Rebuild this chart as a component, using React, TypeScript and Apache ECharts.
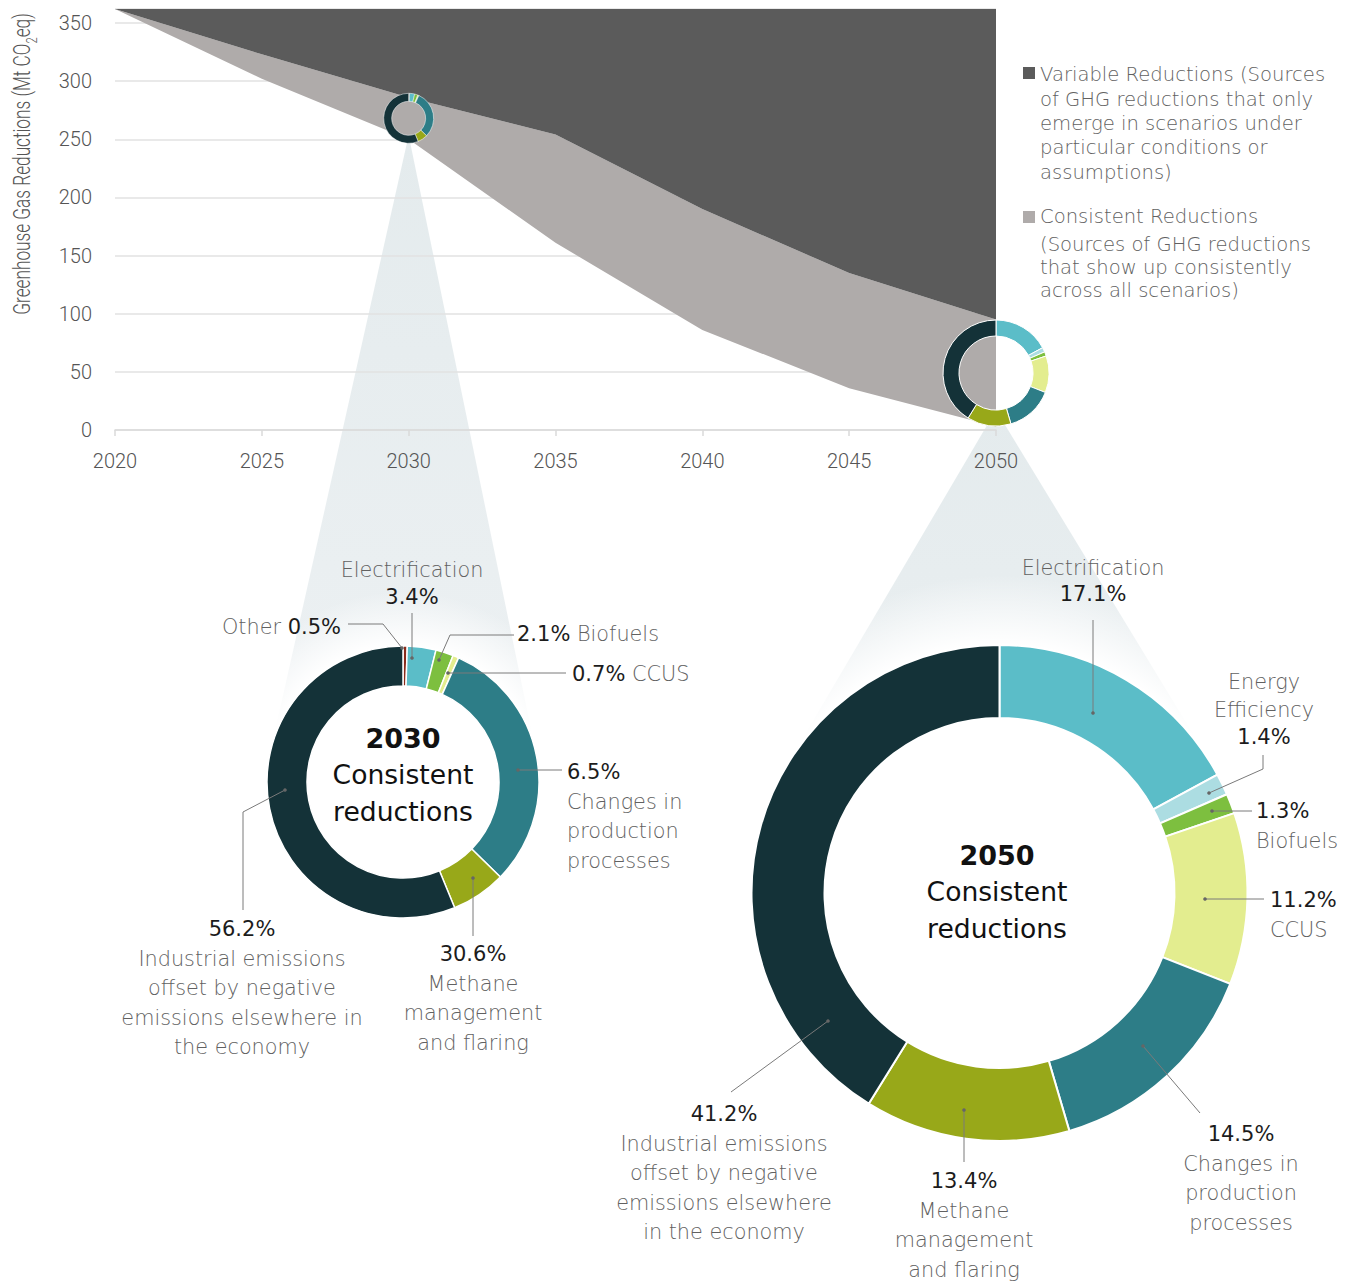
import React, { useEffect, useRef } from "react";
import * as echarts from "echarts";

// ---------------- data ----------------
const years = ["2020", "2025", "2030", "2035", "2040", "2045", "2050"];
const consistentLow = [362, 302, 250, 161, 86, 36, 3];
const consistentHigh = [362, 323, 286, 254, 190, 135, 95];
const totalReductions = [362, 362, 362, 362, 362, 362, 362];

const cats2030 = [
  "Other",
  "Electrification",
  "Biofuels",
  "CCUS",
  "Changes in production processes",
  "Methane management and flaring",
  "Industrial emissions offset",
];
const values2030 = [0.5, 3.4, 2.1, 0.7, 30.6, 6.5, 56.2];

const cats2050 = [
  "Electrification",
  "Energy Efficiency",
  "Biofuels",
  "CCUS",
  "Changes in production processes",
  "Methane management and flaring",
  "Industrial emissions offset",
];
const values2050 = [17.1, 1.4, 1.3, 11.2, 14.5, 13.4, 41.2];

// ---------------- styles ----------------
const COLORS: Record<string, string> = {
  Other: "#8a2b1b",
  Electrification: "#5bbdc8",
  "Energy Efficiency": "#acdde2",
  Biofuels: "#7dbf3f",
  CCUS: "#e3ed8f",
  "Changes in production processes": "#2d7d87",
  "Methane management and flaring": "#98a819",
  "Industrial emissions offset": "#143238",
};
const DARK_AREA = "#5b5b5b";
const LIGHT_AREA = "#afabaa";
const AXIS_FONT = "Roboto, \"Liberation Sans\", sans-serif";
const SANS = '"DejaVu Sans", "Open Sans", sans-serif';
const DESC_COLOR = "#616161";
const PCT_COLOR = "#1c1c1c";

type Ann = {
  x: number;
  y: number;
  align: "left" | "center" | "right";
  lh: number;
  lines: string[];
  leader: number[][];
};

const ann2030: Ann[] = [
  { x: 412, y: 570, align: "center", lh: 27, lines: ["{d|Electrification}", "{p|3.4%}"], leader: [[412, 613], [412, 658]] },
  { x: 341, y: 627, align: "right", lh: 27, lines: ["{d|Other }{p|0.5%}"], leader: [[348, 624], [383, 624], [402, 648]] },
  { x: 517, y: 634, align: "left", lh: 27, lines: ["{p|2.1%}{d| Biofuels}"], leader: [[514, 635], [450, 635], [439, 660]] },
  { x: 572, y: 674, align: "left", lh: 27, lines: ["{p|0.7%}{d| CCUS}"], leader: [[566, 673], [448, 673]] },
  { x: 567, y: 772, align: "left", lh: 29.7, lines: ["{p|6.5%}", "{d|Changes in}", "{d|production}", "{d|processes}"], leader: [[562, 770], [518, 770]] },
  { x: 473, y: 954, align: "center", lh: 29.7, lines: ["{p|30.6%}", "{d|Methane}", "{d|management}", "{d|and flaring}"], leader: [[473, 936], [473, 878]] },
  {
    x: 242, y: 929, align: "center", lh: 29.5,
    lines: ["{p|56.2%}", "{d|Industrial emissions}", "{d|offset by negative}", "{d|emissions elsewhere in}", "{d|the economy}"],
    leader: [[243, 910], [243, 812], [285, 790]],
  },
];

const ann2050: Ann[] = [
  { x: 1093, y: 568, align: "center", lh: 26, lines: ["{d|Electrification}", "{p|17.1%}"], leader: [[1093, 620], [1093, 713]] },
  { x: 1264, y: 682, align: "center", lh: 27.5, lines: ["{d|Energy}", "{d|Efficiency}", "{p|1.4%}"], leader: [[1263, 755], [1263, 769], [1209, 793]] },
  { x: 1256, y: 811, align: "left", lh: 30, lines: ["{p|1.3%}", "{d|Biofuels}"], leader: [[1252, 811], [1212, 811]] },
  { x: 1270, y: 900, align: "left", lh: 30, lines: ["{p|11.2%}", "{d|CCUS}"], leader: [[1264, 899], [1205, 899]] },
  { x: 1241, y: 1134, align: "center", lh: 29.7, lines: ["{p|14.5%}", "{d|Changes in}", "{d|production}", "{d|processes}"], leader: [[1200, 1113], [1143, 1046]] },
  { x: 964, y: 1181, align: "center", lh: 29.7, lines: ["{p|13.4%}", "{d|Methane}", "{d|management}", "{d|and flaring}"], leader: [[964, 1162], [964, 1110]] },
  {
    x: 724, y: 1114, align: "center", lh: 29.5,
    lines: ["{p|41.2%}", "{d|Industrial emissions}", "{d|offset by negative}", "{d|emissions elsewhere}", "{d|in the economy}"],
    leader: [[731, 1092], [828, 1021]],
  },
];

const BIG30 = { cx: 403, cy: 782, r0: 96, r1: 136 };
const BIG50 = { cx: 999.5, cy: 893, r0: 175, r1: 248 };

function annGraphics(list: Ann[]) {
  const out: any[] = [];
  list.forEach((a) => {
    out.push({
      type: "polyline",
      z: 20,
      silent: true,
      shape: { points: a.leader },
      style: { stroke: "#7a7a7a", lineWidth: 1, fill: null },
    });
    const end = a.leader[a.leader.length - 1];
    out.push({ type: "circle", z: 21, silent: true, shape: { cx: end[0], cy: end[1], r: 1.8 }, style: { fill: "#666" } });
    out.push({
      type: "text",
      z: 22,
      silent: true,
      x: a.x,
      y: a.y - a.lh / 2,
      style: {
        text: a.lines.join("\n"),
        align: a.align,
        verticalAlign: "top",
        rich: {
          p: { fontFamily: SANS, fontSize: 21, fill: PCT_COLOR, lineHeight: a.lh },
          d: { fontFamily: SANS, fontSize: 20.8, fontWeight: 300, fill: DESC_COLOR, lineHeight: a.lh },
        },
      },
    });
  });
  return out;
}

function conePoints(ax: number, ay: number, cx: number, cy: number, R: number) {
  const dx = cx - ax;
  const dy = cy - ay;
  const d = Math.hypot(dx, dy);
  const th = Math.asin(R / d);
  const L = Math.sqrt(d * d - R * R);
  const base = Math.atan2(dy, dx);
  return [
    [ax, ay],
    [ax + L * Math.cos(base + th), ay + L * Math.sin(base + th)],
    [cx, cy],
    [ax + L * Math.cos(base - th), ay + L * Math.sin(base - th)],
  ];
}

function pieSeries(name: string, cats: string[], vals: number[], center: number[], radius: number[], border: number) {
  return {
    type: "pie",
    name,
    center,
    radius,
    startAngle: 90,
    clockwise: true,
    silent: true,
    z: 5,
    label: { show: false },
    labelLine: { show: false },
    itemStyle: { borderColor: "#ffffff", borderWidth: border },
    emphasis: { disabled: true },
    data: cats.map((c, i) => ({ name: c, value: vals[i], itemStyle: { color: COLORS[c] } })),
  };
}

function measure(text: string, font: string) {
  const c = document.createElement("canvas").getContext("2d");
  if (!c) return text.length * 10;
  c.font = font;
  return c.measureText(text).width;
}

export default function App() {
  const ref = useRef<HTMLDivElement>(null);

  useEffect(() => {
    if (!ref.current) return;
    const chart = echarts.init(ref.current, null, { renderer: "svg" });

    const axesOption: any = {
      animation: false,
      grid: { left: 115, right: 358, top: 9, bottom: 854, containLabel: false },
      xAxis: {
        type: "category",
        data: years,
        boundaryGap: false,
        axisLine: { lineStyle: { color: "#dadada", width: 1.5 } },
        axisTick: { show: true, alignWithLabel: true, length: 6, lineStyle: { color: "#dadada", width: 1.5 } },
        axisLabel: { fontFamily: AXIS_FONT, fontSize: 20, fontWeight: 300, color: "#555555", margin: 21 },
        splitLine: { show: false },
      },
      yAxis: {
        type: "value",
        min: 0,
        max: 362,
        interval: 50,
        axisLine: { show: false },
        axisTick: { show: false },
        axisLabel: { fontFamily: AXIS_FONT, fontSize: 20, fontWeight: 300, color: "#555555", margin: 23, showMaxLabel: false },
        splitLine: { lineStyle: { color: "#e2e2e2", width: 1.5 } },
      },
      series: [],
    };
    chart.setOption(axesOption);

    const i30 = years.indexOf("2030");
    const i50 = years.indexOf("2050");
    const mid = (i: number) => (consistentLow[i] + consistentHigh[i]) / 2;
    const p30 = chart.convertToPixel({ gridIndex: 0 }, [i30, mid(i30)]) as number[];
    const p50 = chart.convertToPixel({ gridIndex: 0 }, [i50, mid(i50)]) as number[];

    const small30 = { r0: 17, r1: 25 };
    const small50 = { r0: 37, r1: 53 };

    const apex30 = [p30[0], p30[1] + small30.r0];
    const apex50 = [p50[0], p50[1] + small50.r0];

    const coneFill = (ax: number, ay: number, cx: number, cy: number) => ({
      type: "linear",
      x: ax,
      y: ay,
      x2: cx,
      y2: cy,
      global: true,
      colorStops: [
        { offset: 0, color: "#e4ebed" },
        { offset: 1, color: "#edf1f3" },
      ],
    });

    const glow = (b: { cx: number; cy: number; r1: number }, extra: number) => {
      const R = b.r1 + extra;
      return {
        type: "circle",
        z: -1,
        silent: true,
        shape: { cx: b.cx, cy: b.cy, r: R },
        style: {
          fill: {
            type: "radial",
            x: 0.5,
            y: 0.5,
            r: 0.5,
            colorStops: [
              { offset: 0, color: "rgba(255,255,255,1)" },
              { offset: b.r1 / R, color: "rgba(255,255,255,1)" },
              { offset: 1, color: "rgba(255,255,255,0)" },
            ],
          },
        },
      };
    };

    // y-axis title, condensed to the height the reference gives it
    const titleMain = "Greenhouse Gas Reductions (Mt CO";
    const titleEnd = "eq)";
    const tFont = "23px Roboto";
    const tWidth = measure(titleMain, tFont) + measure(titleEnd, tFont) + measure("2", "15px Roboto");
    const titleScale = Math.min(1, 306 / tWidth);

    const graphics: any[] = [
      {
        type: "polygon",
        z: -5,
        silent: true,
        shape: { points: conePoints(apex30[0], apex30[1], BIG30.cx, BIG30.cy, BIG30.r1) },
        style: { fill: coneFill(apex30[0], apex30[1], BIG30.cx, BIG30.cy) },
      },
      {
        type: "polygon",
        z: -5,
        silent: true,
        shape: { points: conePoints(apex50[0], apex50[1], BIG50.cx, BIG50.cy, BIG50.r1) },
        style: { fill: coneFill(apex50[0], apex50[1], BIG50.cx, BIG50.cy) },
      },
      glow(BIG30, 55),
      glow(BIG50, 70),
      // y axis title
      {
        type: "text",
        z: 10,
        silent: true,
        x: 22,
        y: 164,
        rotation: Math.PI / 2,
        scaleX: titleScale,
        style: {
          text: "{t|" + titleMain + "}{s|2}{t|" + titleEnd + "}",
          align: "center",
          verticalAlign: "middle",
          rich: {
            t: { fontFamily: "Roboto", fontSize: 23, fontWeight: 300, fill: "#555555", lineHeight: 27 },
            s: { fontFamily: "Roboto", fontSize: 15, fontWeight: 300, fill: "#555555", lineHeight: 15, verticalAlign: "bottom", padding: [0, 0, -4, 0] },
          },
        },
      },
      // legend
      { type: "rect", z: 10, silent: true, shape: { x: 1023, y: 67, width: 12, height: 12 }, style: { fill: DARK_AREA } },
      {
        type: "text",
        z: 10,
        silent: true,
        x: 1040,
        y: 75 - 12.15,
        style: {
          text: "Variable Reductions (Sources\nof GHG reductions that only\nemerge in scenarios under\nparticular conditions or\nassumptions)",
          fontFamily: SANS,
          fontWeight: 300,
          fontSize: 19.6,
          lineHeight: 24.3,
          fill: DESC_COLOR,
          align: "left",
          verticalAlign: "top",
        },
      },
      { type: "rect", z: 10, silent: true, shape: { x: 1023, y: 211, width: 12, height: 12 }, style: { fill: LIGHT_AREA } },
      {
        type: "text",
        z: 10,
        silent: true,
        x: 1040,
        y: 216 - 12,
        style: {
          text: "Consistent Reductions",
          fontFamily: SANS,
          fontWeight: 300,
          fontSize: 19.6,
          lineHeight: 24,
          fill: DESC_COLOR,
          align: "left",
          verticalAlign: "top",
        },
      },
      {
        type: "text",
        z: 10,
        silent: true,
        x: 1040,
        y: 244 - 11.5,
        style: {
          text: "(Sources of GHG reductions\nthat show up consistently\nacross all scenarios)",
          fontFamily: SANS,
          fontWeight: 300,
          fontSize: 19.6,
          lineHeight: 23,
          fill: DESC_COLOR,
          align: "left",
          verticalAlign: "top",
        },
      },
      // center texts
      {
        type: "text",
        z: 22,
        silent: true,
        x: BIG30.cx,
        y: 738 - 18.25,
        style: {
          text: "{b|2030}\n{n|Consistent}\n{n|reductions}",
          align: "center",
          verticalAlign: "top",
          rich: {
            b: { fontFamily: SANS, fontSize: 27, fontWeight: "bold", fill: "#111", lineHeight: 36.5 },
            n: { fontFamily: SANS, fontSize: 26.6, fill: "#111", lineHeight: 36.5 },
          },
        },
      },
      {
        type: "text",
        z: 22,
        silent: true,
        x: 997,
        y: 855 - 18.25,
        style: {
          text: "{b|2050}\n{n|Consistent}\n{n|reductions}",
          align: "center",
          verticalAlign: "top",
          rich: {
            b: { fontFamily: SANS, fontSize: 27, fontWeight: "bold", fill: "#111", lineHeight: 36.5 },
            n: { fontFamily: SANS, fontSize: 26.6, fill: "#111", lineHeight: 36.5 },
          },
        },
      },
      ...annGraphics(ann2030),
      ...annGraphics(ann2050),
    ];

    const fullOption: any = {
      ...axesOption,
      series: [
        {
          type: "line",
          name: "base",
          stack: "ghg",
          data: consistentLow,
          symbol: "none",
          silent: true,
          lineStyle: { width: 0, opacity: 0 },
          z: 2,
        },
        {
          type: "line",
          name: "Consistent Reductions",
          stack: "ghg",
          data: consistentHigh.map((v, i) => v - consistentLow[i]),
          symbol: "none",
          silent: true,
          lineStyle: { width: 0, opacity: 0 },
          areaStyle: { color: LIGHT_AREA, opacity: 1 },
          z: 2,
        },
        {
          type: "line",
          name: "Variable Reductions",
          stack: "ghg",
          data: totalReductions.map((v, i) => v - consistentHigh[i]),
          symbol: "none",
          silent: true,
          lineStyle: { width: 0, opacity: 0 },
          areaStyle: { color: DARK_AREA, opacity: 1 },
          z: 2,
        },
        pieSeries("2030 small", cats2030, values2030, p30, [small30.r0, small30.r1], 0.5),
        pieSeries("2050 small", cats2050, values2050, p50, [small50.r0, small50.r1], 1),
        pieSeries("2030", cats2030, values2030, [BIG30.cx, BIG30.cy], [BIG30.r0, BIG30.r1], 1.5),
        pieSeries("2050", cats2050, values2050, [BIG50.cx, BIG50.cy], [BIG50.r0, BIG50.r1], 2),
      ],
      graphic: graphics,
    };
    chart.setOption(fullOption, { notMerge: true });

    return () => chart.dispose();
  }, []);

  return (
    <div
      ref={ref}
      style={{ position: "absolute", left: 0, top: 0, width: 1354, height: 1284, background: "#ffffff" }}
    />
  );
}
